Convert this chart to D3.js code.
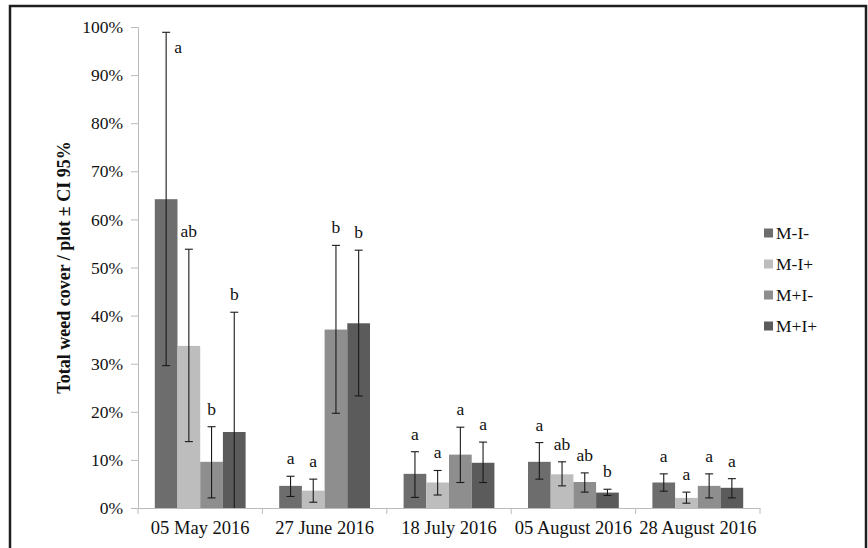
<!DOCTYPE html>
<html>
<head>
<meta charset="utf-8">
<script src="https://cdn.jsdelivr.net/npm/d3@7"></script>
<style>
  body { margin: 0; background: #fff; }
  svg { display: block; font-family: "Liberation Serif", "Times New Roman", serif; }
</style>
</head>
<body>
<svg class="chart"></svg>
<script>
var dates = ["05 May 2016", "27 June 2016", "18 July 2016", "05 August 2016", "28 August 2016"];
var seriesNames = ["M-I-", "M-I+", "M+I-", "M+I+"];
var colors = ["#6d6d6d", "#bdbdbd", "#8e8e8e", "#5b5b5b"];

// mean cover per plot (%)
var meanMImI = [64.2, 4.6, 7.1, 9.6, 5.3];
var meanMIpI = [33.7, 3.6, 5.3, 7.0, 2.1];
var meanPImI = [9.6, 37.1, 11.1, 5.4, 4.6];
var meanPIpI = [15.8, 38.4, 9.4, 3.2, 4.2];

// CI 95% lower / upper
var lowMImI = [29.6, 2.4, 2.2, 6.0, 3.5];
var highMImI = [98.9, 6.6, 11.7, 13.6, 7.1];
var lowMIpI = [13.8, 1.2, 2.7, 4.6, 1.0];
var highMIpI = [53.8, 6.0, 7.8, 9.6, 3.3];
var lowPImI = [2.1, 19.7, 5.3, 3.3, 2.1];
var highPImI = [16.9, 54.6, 16.8, 7.3, 7.1];
var lowPIpI = [0, 23.3, 5.3, 2.6, 2.1];
var highPIpI = [40.7, 53.6, 13.7, 3.9, 6.1];

// significance letters
var letMImI = ["a", "a", "a", "a", "a"];
var letMIpI = ["ab", "a", "a", "ab", "a"];
var letPImI = ["b", "b", "a", "ab", "a"];
var letPIpI = ["b", "b", "a", "b", "a"];

var yTicks = [0, 10, 20, 30, 40, 50, 60, 70, 80, 90, 100];

var means = [meanMImI, meanMIpI, meanPImI, meanPIpI];
var lows = [lowMImI, lowMIpI, lowPImI, lowPIpI];
var highs = [highMImI, highMIpI, highPImI, highPIpI];
var letters = [letMImI, letMIpI, letPImI, letPIpI];

var width = 868, height = 548;
var plotLeft = 138, plotRight = 760, plotTop = 27, plotBottom = 508;

var svg = d3.select(".chart")
	.attr("width", width)
	.attr("height", height);

// outer frame
svg.append("rect")
	.attr("x", 10).attr("y", 6)
	.attr("width", 856).attr("height", 560)
	.attr("fill", "none")
	.attr("stroke", "#1e1e1e")
	.attr("stroke-width", 2.5);

var x0 = d3.scaleBand().domain(dates).range([plotLeft, plotRight])
	.paddingInner(0.27).paddingOuter(0.135);
var x1 = d3.scaleBand().domain(seriesNames).range([0, x0.bandwidth()]).padding(0);
var y = d3.scaleLinear().domain([0, 100]).range([plotBottom, plotTop]);

// y axis
var yAxis = svg.append("g")
	.attr("transform", "translate(" + plotLeft + ",0)")
	.call(d3.axisLeft(y).tickValues(yTicks).tickSize(7).tickPadding(8)
		.tickFormat(function(d) { return d + "%"; }));
yAxis.selectAll("path, line").attr("stroke", "#bcbcbc");
yAxis.selectAll("text")
	.attr("font-family", "Liberation Serif")
	.attr("font-size", "17.5px")
	.attr("fill", "#111");

// x axis
var xAxis = svg.append("g")
	.attr("transform", "translate(0," + plotBottom + ")")
	.call(d3.axisBottom(x0).tickSize(0).tickPadding(13));
xAxis.select(".domain").attr("stroke", "#bcbcbc");
xAxis.selectAll("text")
	.attr("font-family", "Liberation Serif")
	.attr("font-size", "18.5px")
	.attr("fill", "#111");

// category boundary ticks
var step = x0.step();
var bounds = d3.range(dates.length + 1).map(function(i) { return plotLeft + i * step; });
svg.append("g").selectAll("line")
	.data(bounds)
	.enter()
	.append("line")
		.attr("x1", function(d) { return d; })
		.attr("x2", function(d) { return d; })
		.attr("y1", plotBottom)
		.attr("y2", plotBottom + 6)
		.attr("stroke", "#bcbcbc");

// flatten to bar records
var bars = [];
seriesNames.forEach(function(s, si) {
	dates.forEach(function(d, di) {
		bars.push({
			date: d, series: s, si: si,
			value: means[si][di], lo: lows[si][di], hi: highs[si][di],
			letter: letters[si][di]
		});
	});
});

svg.append("g").attr("class", "bars")
	.selectAll("rect")
	.data(bars)
	.enter()
	.append("rect")
		.attr("x", function(d) { return x0(d.date) + x1(d.series); })
		.attr("y", function(d) { return y(d.value); })
		.attr("width", x1.bandwidth())
		.attr("height", function(d) { return y(0) - y(d.value); })
		.attr("fill", function(d) { return colors[d.si]; });

function cx(d) { return x0(d.date) + x1(d.series) + x1.bandwidth() / 2; }

var err = svg.append("g").attr("class", "errors")
	.attr("stroke", "#1a1a1a")
	.attr("stroke-width", 1.1);

err.selectAll(".stem")
	.data(bars)
	.enter()
	.append("line")
		.attr("x1", cx).attr("x2", cx)
		.attr("y1", function(d) { return y(d.lo); })
		.attr("y2", function(d) { return y(d.hi); });

err.selectAll(".capHi")
	.data(bars)
	.enter()
	.append("line")
		.attr("x1", function(d) { return cx(d) - 4; })
		.attr("x2", function(d) { return cx(d) + 4; })
		.attr("y1", function(d) { return y(d.hi); })
		.attr("y2", function(d) { return y(d.hi); });

err.selectAll(".capLo")
	.data(bars.filter(function(d) { return d.lo > 0; }))
	.enter()
	.append("line")
		.attr("x1", function(d) { return cx(d) - 4; })
		.attr("x2", function(d) { return cx(d) + 4; })
		.attr("y1", function(d) { return y(d.lo); })
		.attr("y2", function(d) { return y(d.lo); });

// letters
function besideBar(d) { return y(d.hi) - 20 < plotTop; }

svg.append("g").selectAll("text")
	.data(bars)
	.enter()
	.append("text")
		.attr("font-size", "17.5px")
		.attr("fill", "#111")
		.attr("text-anchor", function(d) { return besideBar(d) ? "start" : "middle"; })
		.attr("x", function(d) { return besideBar(d) ? cx(d) + 8 : cx(d); })
		.attr("y", function(d) { return besideBar(d) ? y(d.hi) + 21 : y(d.hi) - 12; })
		.text(function(d) { return d.letter; });

// y title
svg.append("text")
	.attr("transform", "translate(70," + ((plotTop + plotBottom) / 2) + ") rotate(-90)")
	.attr("text-anchor", "middle")
	.attr("font-weight", "bold")
	.attr("font-size", "18px")
	.attr("fill", "#111")
	.text("Total weed cover / plot \u00b1 CI 95%");

// legend
var legend = svg.append("g").selectAll("g")
	.data(seriesNames)
	.enter()
	.append("g")
		.attr("transform", function(d, i) { return "translate(764," + (233 + i * 31) + ")"; });

legend.append("rect")
	.attr("x", 0).attr("y", -4.5)
	.attr("width", 9).attr("height", 9)
	.attr("fill", function(d, i) { return colors[i]; });

legend.append("text")
	.attr("x", 12).attr("y", 6)
	.attr("font-size", "17.5px")
	.attr("fill", "#111")
	.text(function(d) { return d; });
</script>
</body>
</html>
